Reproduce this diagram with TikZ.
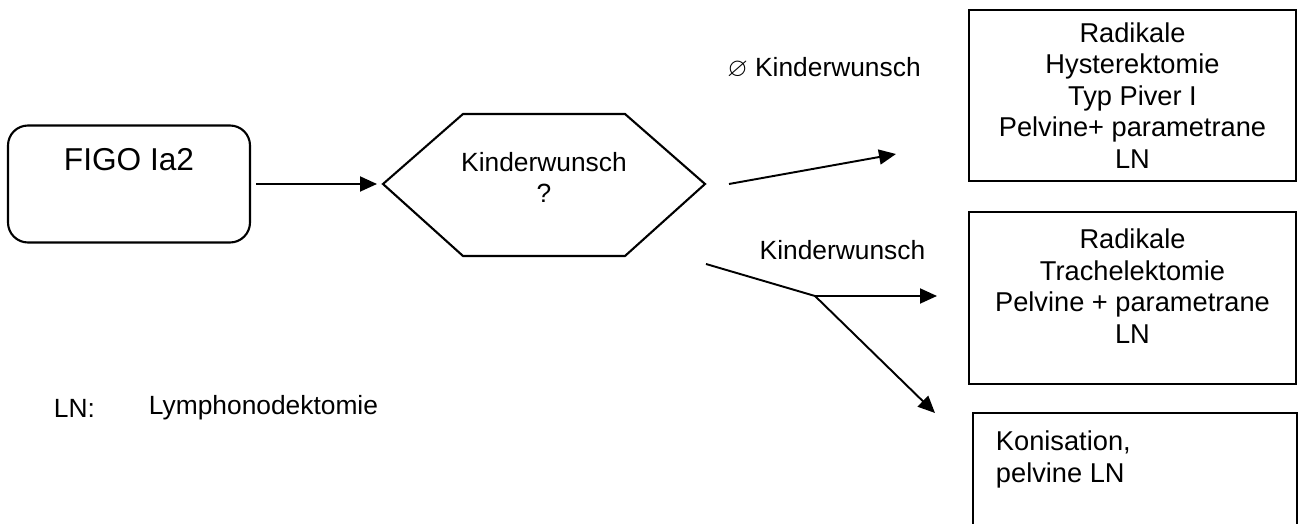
\documentclass[tikz,border=0pt]{standalone}
\usepackage{fontspec}
\usepackage{amssymb}
\setmainfont{Liberation Sans}
\usetikzlibrary{arrows.meta}

\begin{document}
\begin{tikzpicture}[>={Triangle[length=0.34cm,width=0.3cm]}, line width=1.1pt,
  font=\fontsize{15}{17.6}\selectfont,
  every node/.style={inner sep=0pt},
  box/.style={draw, line width=1.2pt, minimum width=6.54cm, minimum height=3.42cm},
  txt/.style={align=center, font=\fontsize{15.5}{17.9}\selectfont}]

\useasboundingbox (0,0) rectangle (26.08,10.48);

% Start box
\node[draw, line width=1.2pt, rounded corners=0.4cm, minimum width=4.84cm, minimum height=2.34cm] (figo) at (2.58,6.8) {};
\node[font=\fontsize{18}{22}\selectfont] (figotxt) at (2.58,7.28) {FIGO Ia2};

% Decision hexagon
\coordinate (askW) at (7.66,6.8);
\coordinate (askE) at (14.1,6.8);
\draw[line width=1.2pt] (askW) -- (9.26,8.2) -- (12.5,8.2) -- (askE) -- (12.5,5.36) -- (9.26,5.36) -- cycle;
\node[align=center] (ask) at (10.88,6.94) {Kinderwunsch\\?};

\draw[->, shorten <=0.1cm, shorten >=0.12cm] (figo.east) -- (askW);

% No wish for children
\coordinate (toHyst) at (17.92,7.4);
\draw[->] ([xshift=0.48cm]askE) -- (toHyst);
\node (nokw) at (16.48,9.12) {$\varnothing$ Kinderwunsch};

\node[box, txt] (hyst) at (22.65,8.57) {Radikale\\Hysterektomie\\Typ Piver I\\Pelvine+ parametrane\\LN};

% Wish for children
\node (kw) at (16.85,5.48) {Kinderwunsch};
\coordinate (kwStart) at (14.12,5.2);
\coordinate (split) at (16.3,4.56);
\coordinate (toTrach) at (18.74,4.56);
\coordinate (toKoni) at (18.7,2.22);
\draw (kwStart) -- (split);
\draw[->] (split) -- (toTrach);
\draw[->] (split) -- (toKoni);

\node[box, minimum height=3.44cm] (trach) at (22.65,4.52) {};
\node[txt] (trachtxt) at (22.65,4.76) {Radikale\\Trachelektomie\\Pelvine + parametrane\\LN};

\node[box, minimum width=6.48cm, minimum height=2.72cm] (koni) at (22.7,0.86) {};
\node[txt, align=left, anchor=north west] (konitxt) at (19.9,1.88) {Konisation,\\pelvine LN};

% Legend
\node[anchor=west] (lnkey) at (1.06,2.32) {LN:};
\node[anchor=west] (lndef) at (2.96,2.32) {Lymphonodektomie};

\end{tikzpicture}
\end{document}
